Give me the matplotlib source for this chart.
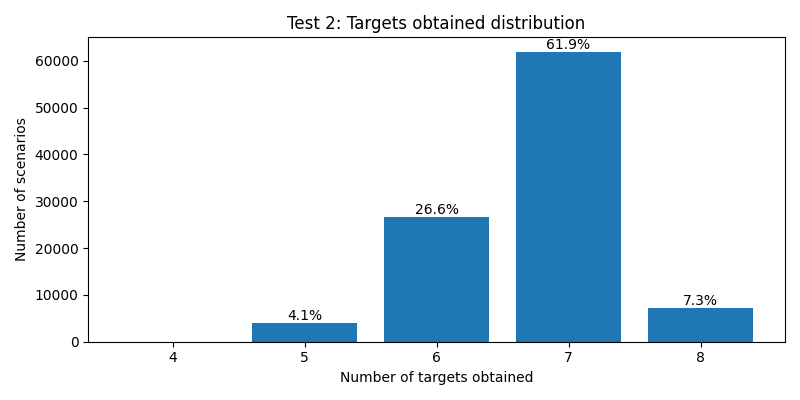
import matplotlib
matplotlib.use("Agg")
import matplotlib.pyplot as plt

# Data
targets = [4, 5, 6, 7, 8]
counts = [0, 4100, 26600, 61900, 7300]
total = 100000

fig, ax = plt.subplots(figsize=(8, 4), dpi=100)
bars = ax.bar(targets, counts, color="#1f77b4")

for bar, c in zip(bars, counts):
    if c > 0:
        ax.text(bar.get_x() + bar.get_width() / 2, bar.get_height(),
                f"{c / total * 100:.1f}%", ha="center", va="bottom")

ax.set_xticks(targets)
ax.set_title("Test 2: Targets obtained distribution")
ax.set_xlabel("Number of targets obtained")
ax.set_ylabel("Number of scenarios")
plt.tight_layout()
plt.savefig("out.png")
